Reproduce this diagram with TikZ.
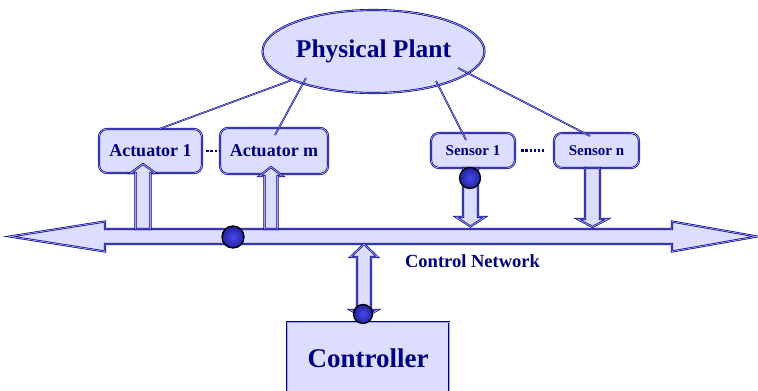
\documentclass[tikz,border=0pt]{standalone}
\usepackage{fontspec}
\setmainfont{Liberation Serif}
\usetikzlibrary{shapes.geometric,calc}
\definecolor{lav}{HTML}{DDDDFF}
\definecolor{navyc}{HTML}{000080}
\definecolor{bevlight}{HTML}{A0A0F8}
\definecolor{balldark}{HTML}{22229A}
\definecolor{balllight}{HTML}{4848F0}
\tikzset{
  bev/.style={fill=lav, draw=navyc, line width=0.65pt, double=bevlight, double distance=0.8pt, line join=miter},
  link/.style={draw=navyc, line width=0.55pt, double=bevlight, double distance=0.6pt},
  lab/.style={text=navyc, font=\bfseries},
  devbox/.style={bev, lab, rectangle, rounded corners=8pt, inner sep=0pt},
  ball/.style={circle, draw=black, line width=1.3pt, inner color=balllight, outer color=balldark, inner sep=0pt},
  dotsline/.style={draw=navyc, line width=2.2pt, dash pattern=on 2.2pt off 1.9pt},
}
\newcommand\upblock[5]{%
  \draw[bev] let \p1=(#1), \p2=(#2) in
    (\x1-#3pt,\y1) -- (\x1-#3pt,\y2-#5pt) -- (\x1-#4pt,\y2-#5pt) -- (\x1,\y2)
    -- (\x1+#4pt,\y2-#5pt) -- (\x1+#3pt,\y2-#5pt) -- (\x1+#3pt,\y1) -- cycle;}
\newcommand\downblock[5]{%
  \draw[bev] let \p1=(#1), \p2=(#2) in
    (\x1-#3pt,\y1) -- (\x1-#3pt,\y2+#5pt) -- (\x1-#4pt,\y2+#5pt) -- (\x1,\y2)
    -- (\x1+#4pt,\y2+#5pt) -- (\x1+#3pt,\y2+#5pt) -- (\x1+#3pt,\y1) -- cycle;}
\begin{document}
\begin{tikzpicture}[x=1pt,y=-1pt]
\useasboundingbox (0,0) rectangle (758,391);
\clip (0,0) rectangle (758,391);

% nodes
\node[bev, lab, ellipse, minimum width=222pt, minimum height=83pt, inner sep=0pt,
      font=\bfseries\fontsize{25.5}{30}\selectfont] (plant) at (373.5,51.5) {Physical Plant};
\node[devbox, minimum width=103pt, minimum height=44pt, font=\bfseries\fontsize{18}{21}\selectfont] (act1) at (150.5,151) {Actuator 1};
\node[devbox, minimum width=108pt, minimum height=46pt, font=\bfseries\fontsize{18}{21}\selectfont] (actm) at (274,151) {Actuator m};
\node[devbox, minimum width=84pt, minimum height=35pt, font=\bfseries\fontsize{15}{18}\selectfont] (sen1) at (473,150.5) {Sensor 1};
\node[devbox, minimum width=85pt, minimum height=35pt, font=\bfseries\fontsize{15}{18}\selectfont] (senn) at (596.5,150.5) {Sensor n};
\node[bev, lab, rectangle, minimum width=162pt, minimum height=72pt, inner sep=0pt,
      font=\bfseries\fontsize{27}{32}\selectfont] (ctrl) at (368,358) {Controller};
\node[lab, anchor=base, font=\bfseries\fontsize{18.5}{22}\selectfont, inner sep=0pt] (netlab) at (472.5,267) {Control Network};

% links from plant
\draw[link] ($(act1.north)+(9.5,0)$) -- ($(plant.center)+(-81.5,28.5)$);
\draw[link] ($(actm.center)+(1,-16)$) -- ($(plant.center)+(-67.5,26.5)$);
\draw[link] ($(sen1.center)+(-7,-10.5)$) -- ($(plant.center)+(62.5,29.5)$);
\draw[link] ($(senn.center)+(-6.5,-14.5)$) -- ($(plant.center)+(84.5,16.5)$);

% dotted separators
\draw[dotsline, shorten <=4pt] (act1.east) -- (actm.west);
\draw[dotsline, shorten <=6pt, shorten >=8pt] (sen1.east) -- (senn.west);

% bus
\coordinate (busL) at (10,236.5);
\coordinate (busR) at (757,236.5);
\draw[bev] let \p1=(busL), \p2=(busR) in
  (\p1) -- (\x1+95pt,\y1+15pt) -- (\x1+95pt,\y1+7.5pt) -- (\x2-85pt,\y1+7.5pt)
  -- (\x2-85pt,\y1+15pt) -- (\p2) -- (\x2-85pt,\y1-15pt) -- (\x2-85pt,\y1-7.5pt)
  -- (\x1+95pt,\y1-7.5pt) -- (\x1+95pt,\y1-15pt) -- cycle;

% vertical block arrows
\coordinate (a1tail) at (143,229);
\coordinate (a1tip) at (143,164);
\coordinate (amtail) at (271,229);
\coordinate (amtip) at (271,167);
\coordinate (s1tail) at (470.5,168);
\coordinate (s1tip) at (470.5,226.5);
\coordinate (sntail) at (592.5,168);
\coordinate (sntip) at (592.5,227);
\upblock{a1tail}{a1tip}{7.5}{12.5}{9}
\upblock{amtail}{amtip}{6.5}{11.5}{9}
\downblock{s1tail}{s1tip}{7.5}{14.5}{9.5}
\downblock{sntail}{sntip}{7.5}{15}{8}

% controller double arrow
\coordinate (ctop) at (364,244);
\coordinate (cbot) at (364,318);
\draw[bev] let \p1=(ctop), \p2=(cbot) in
  (\p1) -- (\x1+13.5pt,\y1-13pt) -- (\x1+7pt,\y1-13pt) -- (\x1+7pt,\y2+8pt)
  -- (\x1+13.5pt,\y2+8pt) -- (\p2) -- (\x1-13.5pt,\y2+8pt) -- (\x1-7pt,\y2+8pt)
  -- (\x1-7pt,\y1-13pt) -- (\x1-13.5pt,\y1-13pt) -- cycle;

% balls
\node[ball, minimum size=22pt] (b1) at (233,237) {};
\node[ball, minimum size=21pt] (b2) at (470,178) {};
\node[ball, minimum size=19pt] (b3) at (363,314) {};
\end{tikzpicture}
\end{document}
